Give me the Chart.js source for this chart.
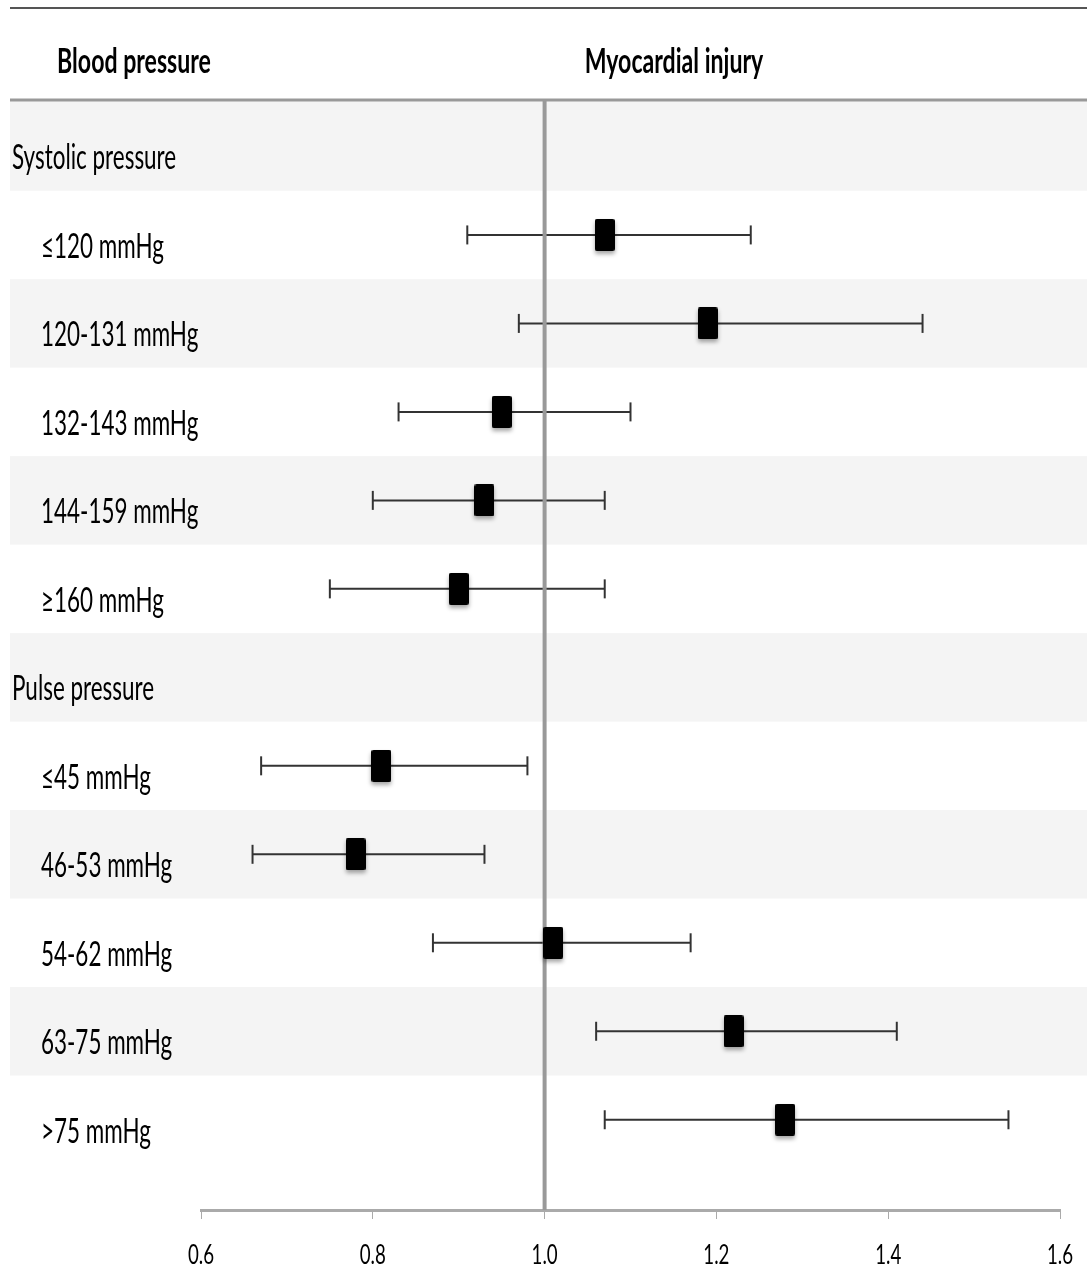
<!DOCTYPE html>
<html>
<head>
<meta charset="utf-8">
<title>Blood pressure and myocardial injury</title>
<script src="https://cdn.jsdelivr.net/npm/chart.js@4.4.1/dist/chart.umd.min.js"></script>
<style>
  html, body { margin: 0; padding: 0; background: #fff; }
  canvas { display: block; }
</style>
</head>
<body>
<canvas id="forest" width="1087" height="1270"></canvas>
<script>
// Rows, top to bottom. Group headings have no estimate.
const ROW_LABELS = [
    'Systolic pressure',
    '≤120 mmHg',
    '120-131 mmHg',
    '132-143 mmHg',
    '144-159 mmHg',
    '≥160 mmHg',
    'Pulse pressure',
    '≤45 mmHg',
    '46-53 mmHg',
    '54-62 mmHg',
    '63-75 mmHg',
    '>75 mmHg'
];
const GROUP_ROWS = [0, 6];
const ESTIMATES = [null, 1.07, 1.19, 0.95, 0.93, 0.90, null, 0.81, 0.78, 1.01, 1.22, 1.28];
const CI_LOWER  = [null, 0.91, 0.97, 0.83, 0.80, 0.75, null, 0.67, 0.66, 0.87, 1.06, 1.07];
const CI_UPPER  = [null, 1.24, 1.44, 1.10, 1.07, 1.07, null, 0.98, 0.93, 1.17, 1.41, 1.54];
const X_TICKS = [0.6, 0.8, 1.0, 1.2, 1.4, 1.6];
const REF_VALUE = 1.0;
const HEADERS = ['Blood pressure', 'Myocardial injury'];

// Layout
const FONT = 'Lato, "Open Sans", sans-serif';
const Y_MIN = -0.525;
const Y_MAX = 12.02;
const HEADER_X = [134, 674];
const HEADER_BASELINE = 73;
const TABLE_LEFT = 10;

// Text squeezed horizontally (the layout uses a tall narrow face)
function drawText(ctx, text, x, y, font, align, squeeze) {
    ctx.save();
    ctx.font = font;
    ctx.fillStyle = '#000';
    ctx.textBaseline = 'alphabetic';
    ctx.textAlign = align;
    ctx.translate(x, y);
    ctx.scale(squeeze, 1);
    ctx.fillText(text, 0, 0);
    ctx.restore();
}

// Tall black box used for the point estimate
function makeMarker() {
    const c = document.createElement('canvas');
    c.width = 20;
    c.height = 32;
    const g = c.getContext('2d');
    g.fillStyle = '#000';
    g.beginPath();
    if (g.roundRect) g.roundRect(0, 0, 20, 32, 2); else g.rect(0, 0, 20, 32);
    g.fill();
    return c;
}

// Build points from the row arrays
const markerPoints = [];
const capPoints = [];
const whiskerPoints = [];
ROW_LABELS.forEach((label, i) => {
    if (ESTIMATES[i] === null) return;
    markerPoints.push({ x: ESTIMATES[i], y: i });
    capPoints.push({ x: CI_LOWER[i], y: i }, { x: CI_UPPER[i], y: i });
    whiskerPoints.push({ x: CI_LOWER[i], y: i }, { x: CI_UPPER[i], y: i }, { x: null, y: null });
});

// Row bands, rules and all the table text
const tablePlugin = {
    id: 'table',
    beforeDraw(chart) {
        const ctx = chart.ctx;
        const yScale = chart.scales.y;
        const area = chart.chartArea;
        ctx.save();
        ctx.fillStyle = '#fff';
        ctx.fillRect(0, 0, chart.width, chart.height);

        ctx.fillStyle = '#f4f4f4';
        ROW_LABELS.forEach((label, i) => {
            if (i % 2 !== 0) return;
            const top = i === 0 ? area.top : yScale.getPixelForValue(i - 0.5);
            const bottom = yScale.getPixelForValue(i + 0.5);
            ctx.fillRect(TABLE_LEFT, top, chart.width - TABLE_LEFT, bottom - top);
        });

        ctx.strokeStyle = '#555';
        ctx.lineWidth = 2;
        ctx.beginPath();
        ctx.moveTo(TABLE_LEFT, 8);
        ctx.lineTo(chart.width, 8);
        ctx.stroke();

        ctx.strokeStyle = '#999';
        ctx.lineWidth = 3;
        ctx.beginPath();
        ctx.moveTo(TABLE_LEFT, area.top);
        ctx.lineTo(chart.width, area.top);
        ctx.stroke();
        ctx.restore();
    },
    beforeDatasetDraw(chart, args) {
        // soft drop shadow under the boxes
        if (args.index !== 0) return;
        const ctx = chart.ctx;
        ctx.save();
        ctx.shadowColor = 'rgba(0, 0, 0, 0.35)';
        ctx.shadowBlur = 4;
        ctx.shadowOffsetY = 3;
    },
    afterDatasetDraw(chart, args) {
        if (args.index === 0) chart.ctx.restore();
    },
    afterDraw(chart) {
        const ctx = chart.ctx;
        const xScale = chart.scales.x;
        const yScale = chart.scales.y;

        HEADERS.forEach((h, i) => {
            drawText(ctx, h, HEADER_X[i], HEADER_BASELINE, '700 34px ' + FONT, 'center', 0.68);
        });

        ROW_LABELS.forEach((label, i) => {
            const x = GROUP_ROWS.includes(i) ? 12 : 41;
            const y = yScale.getPixelForValue(i) + 23;
            drawText(ctx, label, x, y, '34px ' + FONT, 'left', 0.66);
        });

        xScale.ticks.forEach(t => {
            const x = xScale.getPixelForValue(t.value);
            drawText(ctx, t.value.toFixed(1), x, 1264, '26px ' + FONT, 'center', 0.72);
        });
    }
};

const ctx = document.getElementById('forest').getContext('2d');
new Chart(ctx, {
    type: 'scatter',
    data: {
        datasets: [
            {
                label: 'Estimate',
                data: markerPoints,
                pointStyle: makeMarker(),
                pointRadius: 10,
                order: 0
            },
            {
                label: 'Reference',
                data: [{ x: REF_VALUE, y: Y_MIN }, { x: REF_VALUE, y: Y_MAX }],
                showLine: true,
                borderColor: '#999',
                borderWidth: 4,
                pointRadius: 0,
                order: 1
            },
            {
                label: 'CI caps',
                data: capPoints,
                pointStyle: 'line',
                rotation: 90,
                pointRadius: 9.5,
                borderColor: '#333',
                borderWidth: 2,
                order: 2
            },
            {
                label: 'CI',
                data: whiskerPoints,
                showLine: true,
                spanGaps: false,
                borderColor: '#333',
                borderWidth: 2,
                pointRadius: 0,
                order: 3
            }
        ]
    },
    options: {
        responsive: false,
        animation: false,
        events: [],
        layout: { padding: { left: 201, right: 27, top: 100, bottom: 0 } },
        plugins: {
            legend: { display: false },
            tooltip: { enabled: false }
        },
        scales: {
            x: {
                type: 'linear',
                min: 0.6,
                max: 1.6,
                afterBuildTicks: scale => { scale.ticks = X_TICKS.map(v => ({ value: v })); },
                afterFit: scale => { scale.height = 60; },
                ticks: { display: false },
                grid: { drawOnChartArea: false, drawTicks: true, tickLength: 9, color: '#aaa', lineWidth: 1 },
                border: { color: '#aaa', width: 3 }
            },
            y: {
                type: 'linear',
                reverse: true,
                min: Y_MIN,
                max: Y_MAX,
                display: false
            }
        }
    },
    plugins: [tablePlugin]
});
</script>
</body>
</html>
